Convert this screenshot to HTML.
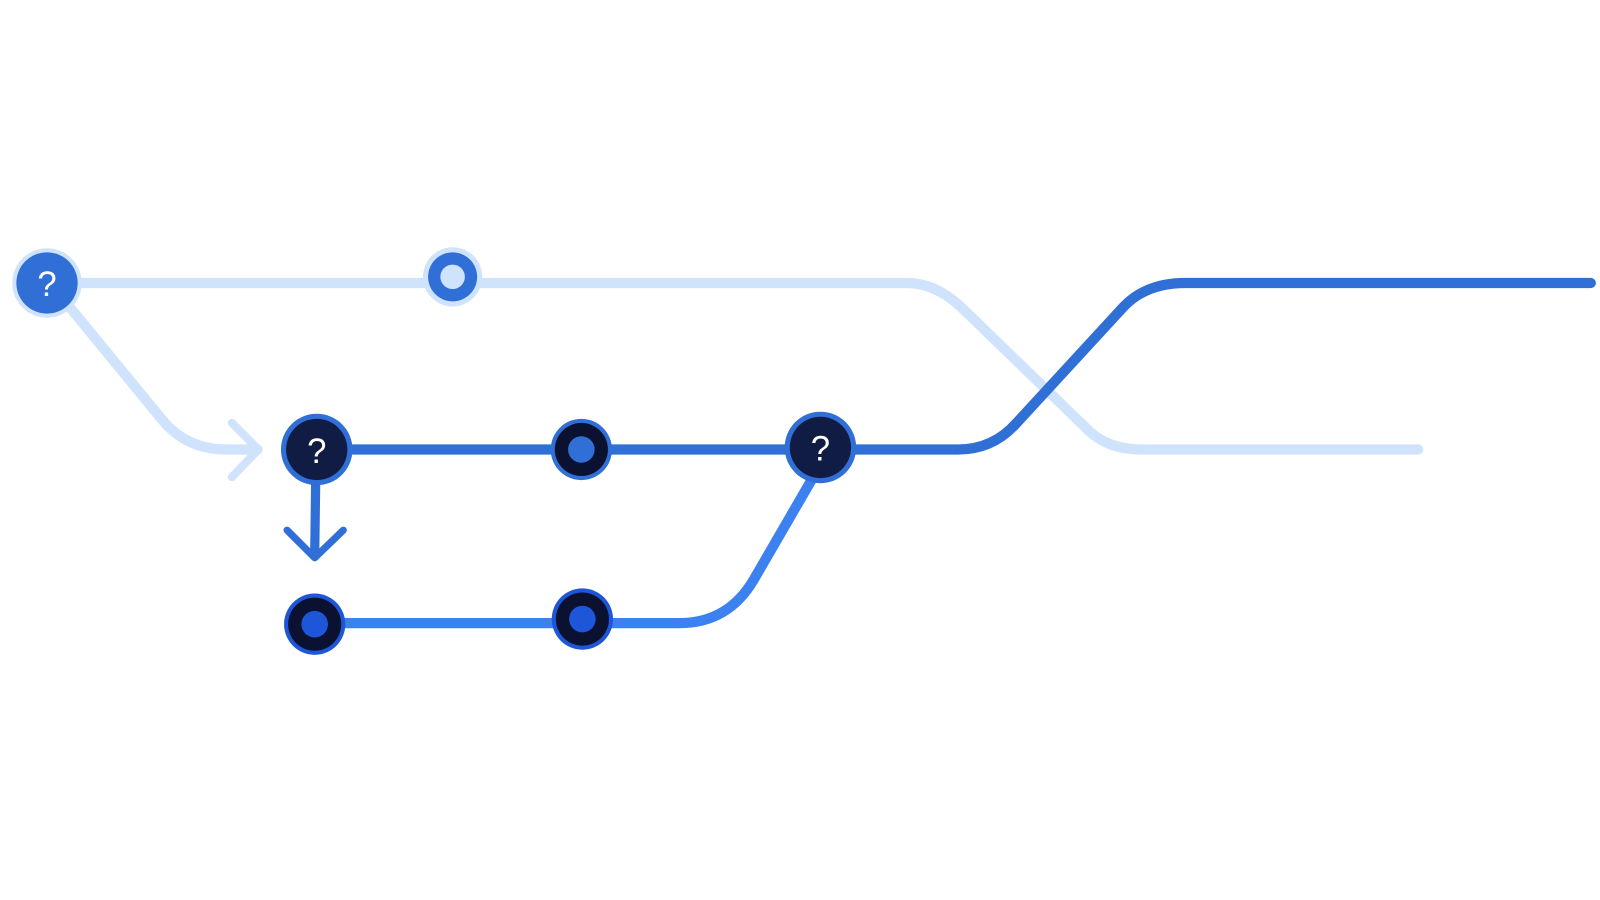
<!DOCTYPE html>
<html><head><meta charset="utf-8"><style>html,body{margin:0;padding:0;background:#fff;width:1600px;height:900px;overflow:hidden}svg{display:block}</style></head>
<body>
<svg width="1600" height="900" viewBox="0 0 1566 881" preserveAspectRatio="none" xmlns="http://www.w3.org/2000/svg" font-family="Liberation Sans, sans-serif">
<g fill="none" stroke-linecap="round" stroke-linejoin="round">
<path d="M46 277 H888 Q915 277 940 300 L1062 418 Q1082 440 1118 440 H1388" stroke="#cfe3fd" stroke-width="10"/>
<path d="M66 298 L158 410 Q182 440 222 440 H252" stroke="#cfe3fd" stroke-width="10"/>
<path d="M227 414 L253 440 L227 467" stroke="#cfe3fd" stroke-width="8"/>
<path d="M310 440 H938 Q972 440 995 414 L1100 300 Q1122 277 1160 277 H1557" stroke="#2f6fd6" stroke-width="10"/>
<path d="M309 470 L308 544" stroke="#2f6fd6" stroke-width="9"/>
<path d="M281 519 L308 546 L336 519" stroke="#2f6fd6" stroke-width="7"/>
<path d="M308 610 H665 Q713 610 738 567 L800 460" stroke="#3b82f0" stroke-width="10"/>
</g>
<circle cx="46" cy="277" r="34" fill="#cfe3fd"/>
<circle cx="46" cy="277" r="30" fill="#2f6fd6"/>
<text x="46" y="290" font-size="34" fill="#fff" text-anchor="middle">?</text>
<circle cx="443" cy="271" r="29" fill="#cfe3fd"/>
<circle cx="443" cy="271" r="24" fill="#2f6fd6"/>
<circle cx="443" cy="271" r="12" fill="#cfe3fd"/>
<circle cx="310" cy="440" r="35" fill="#2f6fd6"/>
<circle cx="310" cy="440" r="30" fill="#111c45"/>
<text x="310" y="453" font-size="34" fill="#fff" text-anchor="middle">?</text>
<circle cx="569" cy="440" r="30" fill="#2f6fd6"/>
<circle cx="569" cy="440" r="26" fill="#0b1130"/>
<circle cx="569" cy="440" r="13" fill="#2f6fd6"/>
<circle cx="803" cy="438" r="35" fill="#2f6fd6"/>
<circle cx="803" cy="438" r="30" fill="#111c45"/>
<text x="803" y="451" font-size="34" fill="#fff" text-anchor="middle">?</text>
<circle cx="308" cy="611" r="30" fill="#1d56d8"/>
<circle cx="308" cy="611" r="26" fill="#0b1130"/>
<circle cx="308" cy="611" r="13" fill="#1d56d8"/>
<circle cx="570" cy="606" r="30" fill="#1d56d8"/>
<circle cx="570" cy="606" r="26" fill="#0b1130"/>
<circle cx="570" cy="606" r="13" fill="#1d56d8"/>
</svg>
</body></html>
